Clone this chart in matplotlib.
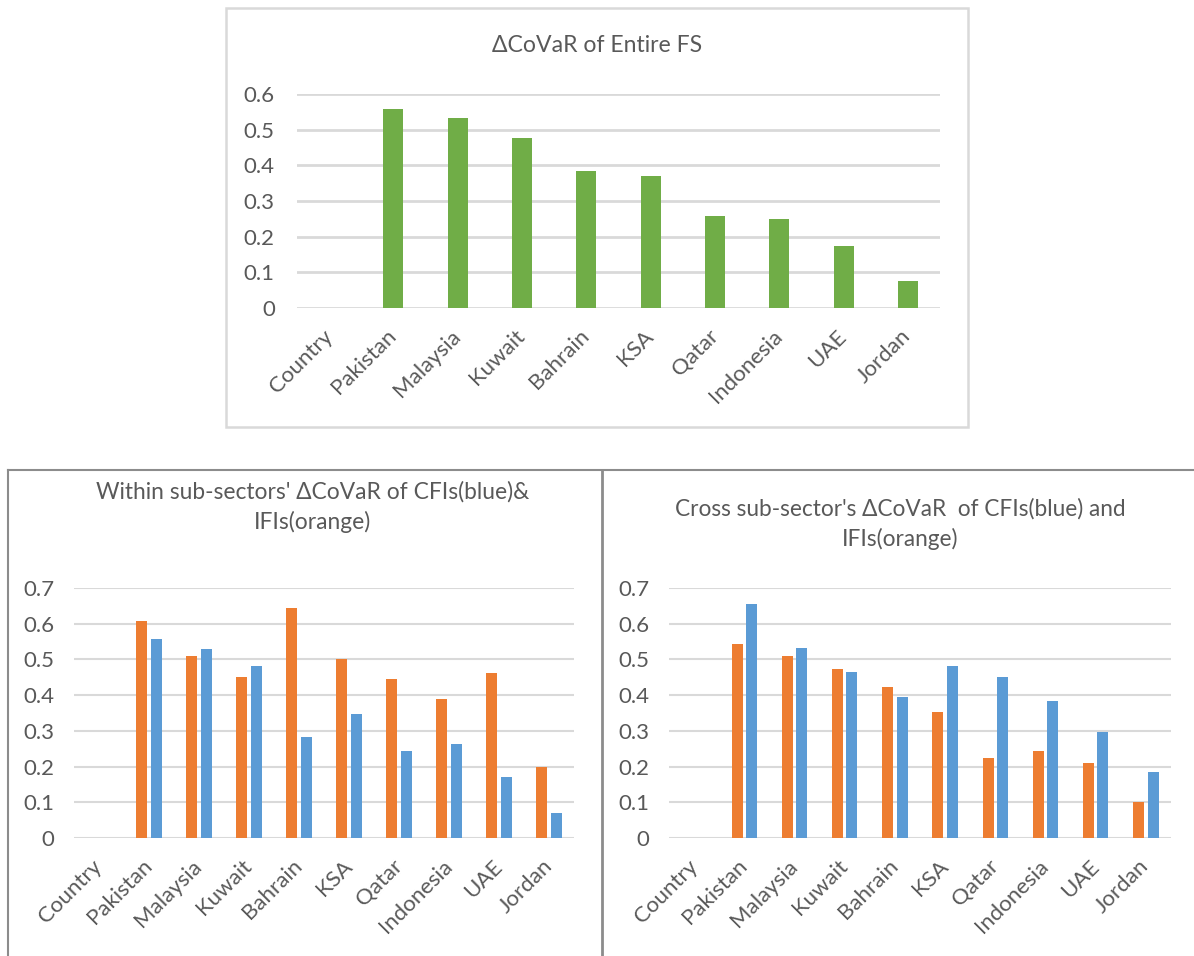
import numpy as np
import matplotlib
matplotlib.use("Agg")
import matplotlib.pyplot as plt
from matplotlib.lines import Line2D
from matplotlib.patches import Rectangle

plt.rcParams['font.family'] = ['Lato', 'DejaVu Sans']

# --- data ---
countries = ['Country', 'Pakistan', 'Malaysia', 'Kuwait', 'Bahrain', 'KSA',
             'Qatar', 'Indonesia', 'UAE', 'Jordan']
entire_fs = [np.nan, 0.557, 0.532, 0.478, 0.383, 0.369, 0.257, 0.250, 0.174, 0.077]

within_ifi = [np.nan, 0.609, 0.511, 0.451, 0.645, 0.501, 0.446, 0.390, 0.462, 0.200]
within_cfi = [np.nan, 0.558, 0.530, 0.483, 0.282, 0.346, 0.243, 0.264, 0.171, 0.071]

cross_ifi = [np.nan, 0.544, 0.511, 0.472, 0.422, 0.354, 0.225, 0.245, 0.211, 0.102]
cross_cfi = [np.nan, 0.655, 0.533, 0.466, 0.394, 0.483, 0.451, 0.383, 0.296, 0.186]

GREEN = '#70AD47'
ORANGE = '#ED7D31'
BLUE = '#5B9BD5'
GRID = '#D9D9D9'
TEXT = '#595959'

W, H = 1194, 956
fig = plt.figure(figsize=(W / 100, H / 100), dpi=100)


def px_axes(x0, y0, x1, y1):
    return fig.add_axes([x0 / W, 1 - y1 / H, (x1 - x0) / W, (y1 - y0) / H])


def fx(x):
    return x / W


def fy(y):
    return 1 - y / H


def style(ax, ymax, ypad):
    ax.set_xlim(-0.5, len(countries) - 0.5)
    ax.set_ylim(0, ymax)
    ax.set_yticks(np.arange(0, ymax + 0.001, 0.1))
    ax.set_yticklabels(['0'] + [f'{v:.1f}' for v in np.arange(0.1, ymax + 0.001, 0.1)])
    ax.yaxis.grid(True, color=GRID, linewidth=1.5)
    ax.set_axisbelow(True)
    for s in ax.spines.values():
        s.set_visible(False)
    ax.tick_params(axis='both', length=0, colors=TEXT, labelsize=16)
    ax.tick_params(axis='y', pad=ypad)
    ax.set_xticks(range(len(countries)))
    ax.set_xticklabels(countries, rotation=45, ha='right', va='center',
                       rotation_mode='anchor')
    ax.tick_params(axis='x', pad=18)
    ax.patch.set_alpha(0)


x = np.arange(len(countries))

# top chart: entire financial system
ax1 = px_axes(297, 94, 940, 308)
ax1.bar(x, entire_fs, width=0.31, color=GREEN, zorder=3)
style(ax1, 0.6, 16)
ax1.yaxis.grid(True, color=GRID, linewidth=2)
fig.text(fx(597), fy(46), 'ΔCoVaR of Entire FS', ha='center', va='center',
         fontsize=16.6, color=TEXT)

# bottom left: within sub-sectors
off, bw = 0.143, 0.22
ax2 = px_axes(74, 588, 574, 838)
ax2.bar(x - off, within_ifi, width=bw, color=ORANGE, zorder=3)
ax2.bar(x + off, within_cfi, width=bw, color=BLUE, zorder=3)
style(ax2, 0.7, 14)
fig.text(fx(313), fy(507), "Within sub-sectors' ΔCoVaR of CFIs(blue)&\nIFIs(orange)",
         ha='center', va='center', fontsize=16.4, color=TEXT, linespacing=1.45)

# bottom right: cross sub-sector
ax3 = px_axes(669, 588, 1171, 838)
ax3.bar(x - off, cross_ifi, width=bw, color=ORANGE, zorder=3)
ax3.bar(x + off, cross_cfi, width=bw, color=BLUE, zorder=3)
style(ax3, 0.7, 14)
fig.text(fx(900), fy(524), "Cross sub-sector's ΔCoVaR  of CFIs(blue) and\nIFIs(orange)",
         ha='center', va='center', fontsize=16.3, color=TEXT, linespacing=1.45)

# chart frames
fig.add_artist(Rectangle((fx(226), fy(427)), fx(968 - 226), (427 - 8) / H,
                         transform=fig.transFigure, fill=False,
                         edgecolor=GRID, linewidth=1.8))
frame = '#8C8C8C'
fig.add_artist(Line2D([fx(8), fx(1194)], [fy(470), fy(470)], color=frame, linewidth=1.5))
fig.add_artist(Line2D([fx(8), fx(8)], [fy(470), fy(956)], color=frame, linewidth=1.5))
fig.add_artist(Line2D([fx(602), fx(602)], [fy(470), fy(956)], color=frame, linewidth=2))

fig.savefig('out.png', dpi=100, facecolor='white')
